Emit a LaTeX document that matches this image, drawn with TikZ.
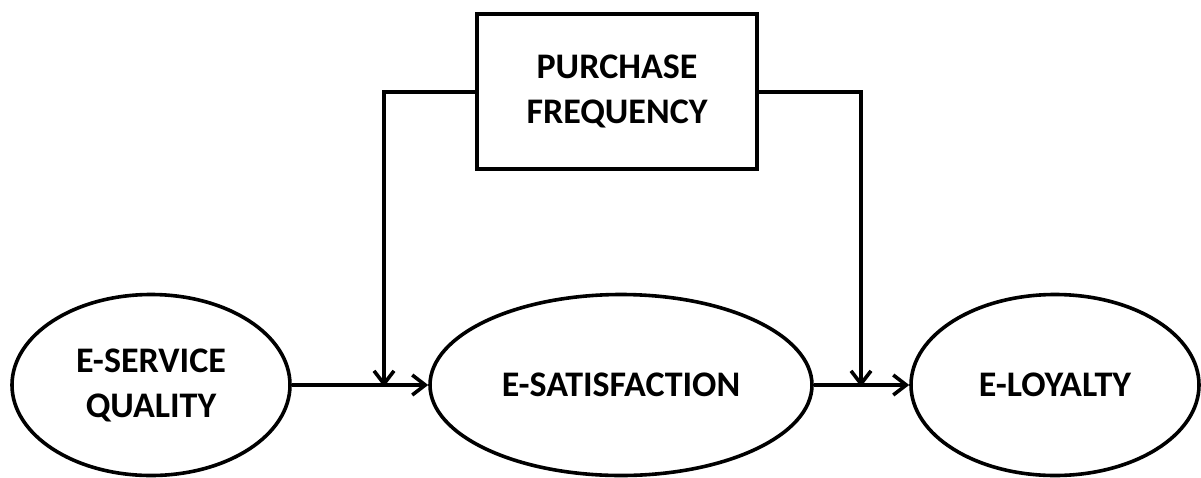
\documentclass[tikz,border=0pt]{standalone}
\usepackage{fontspec}
\setmainfont{Carlito}
\usetikzlibrary{arrows.meta,shapes.geometric}
\begin{document}
\begin{tikzpicture}[x=1pt,y=-1pt,
  lbl/.style={font=\bfseries\fontsize{36}{45}\selectfont, align=center, text=black},
  oval/.style={draw, line width=3.6pt, ellipse, inner sep=0pt, lbl},
  boxnode/.style={draw, line width=3.6pt, rectangle, inner sep=0pt, lbl},
  conn/.style={line width=3.6pt, -{Straight Barb[length=13pt,width=20pt,line width=3.6pt]}}]
\useasboundingbox (0,0) rectangle (1201,477);
\node[oval, minimum width=278pt, minimum height=181pt] (esq) at (151,385) {E-SERVICE\\QUALITY};
\node[oval, minimum width=382pt, minimum height=181pt] (esat) at (621,385) {E-SATISFACTION};
\node[oval, minimum width=288pt, minimum height=181pt] (eloy) at (1055,385) {E-LOYALTY};
\node[boxnode, minimum width=280pt, minimum height=155pt] (pf) at (617,91.5) {PURCHASE\\FREQUENCY};
\coordinate (j1) at (384,385);
\coordinate (j2) at (861,385);
\draw[conn] (esq.east) -- (esat.west);
\draw[conn] (esat.east) -- (eloy.west);
\draw[conn] (pf.west |- 0,92) -| ([yshift=-1.8pt]j1);
\draw[conn] (pf.east |- 0,92) -| ([yshift=-1.8pt]j2);
\end{tikzpicture}
\end{document}
